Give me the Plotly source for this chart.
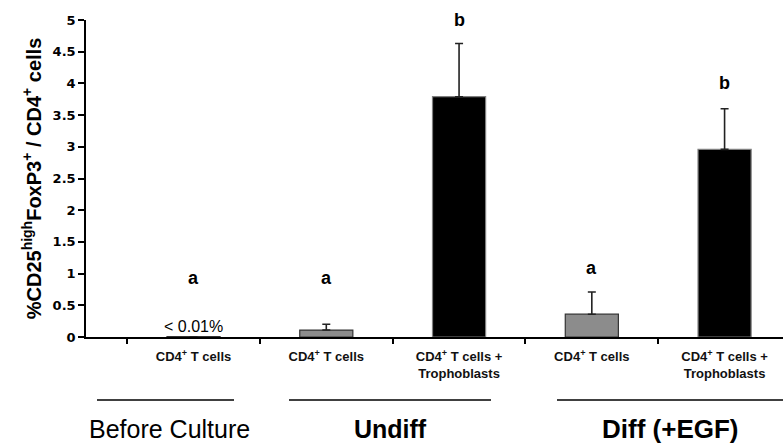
import plotly.graph_objects as go

# ---- data ----
categories = ["bc_t", "ud_t", "ud_tt", "df_t", "df_tt"]
tick_labels = ["CD4<sup>+</sup> T cells",
               "CD4<sup>+</sup> T cells",
               "CD4<sup>+</sup> T cells +<br>Trophoblasts",
               "CD4<sup>+</sup> T cells",
               "CD4<sup>+</sup> T cells +<br>Trophoblasts"]
values = [0.005, 0.11, 3.79, 0.36, 2.96]
errors = [0.0, 0.09, 0.84, 0.35, 0.64]
sig_letters = ["a", "a", "b", "a", "b"]
sig_y = [0.93, 0.93, 5.0, 1.09, 4.0]
bar_colors = ["#8c8c8c", "#8c8c8c", "#000000", "#8c8c8c", "#000000"]
line_colors = ["#333333", "#333333", "#7f7f7f", "#333333", "#7f7f7f"]
groups = ["Before Culture", "<b>Undiff</b>", "<b>Diff (+EGF)</b>"]
y_ticks = [0, 0.5, 1, 1.5, 2, 2.5, 3, 3.5, 4, 4.5, 5]

W, H = 783, 445
L, R, T, B = 86, 0, 20, 108
pw = W - L - R
ph = H - T - B

def px(x):
    return (x - L) / pw

def py(y):
    return (H - B - y) / ph

fig = go.Figure()
fig.add_trace(go.Bar(
    x=categories, y=values,
    marker=dict(color=bar_colors, line=dict(color=line_colors, width=1.2)),
    error_y=dict(type="data", array=errors, arrayminus=[0] * len(errors),
                 symmetric=False, color="#222222", thickness=1.6, width=4),
    width=0.4,
    showlegend=False,
))

for c, s, yy in zip(categories, sig_letters, sig_y):
    fig.add_annotation(x=c, y=yy, text="<b>%s</b>" % s, showarrow=False,
                       font=dict(family="Liberation Sans", size=18, color="black"),
                       xref="x", yref="y")

fig.add_annotation(x=categories[0], y=0.16, text="< 0.01%", showarrow=False,
                   font=dict(family="Liberation Sans", size=16, color="black"))

# group underlines and labels (decorative layout, in pixels -> paper)
group_lines = [(97, 234), (289, 491), (557, 790)]
group_centers = [169, 390, 670]
group_sizes = [25, 25, 26]
for (x0, x1) in group_lines:
    fig.add_shape(type="line", xref="paper", yref="paper",
                  x0=px(x0), x1=px(x1), y0=py(400), y1=py(400),
                  line=dict(color="black", width=1.6))
for g, cx, fs in zip(groups, group_centers, group_sizes):
    fig.add_annotation(xref="paper", yref="paper", x=px(cx), y=py(429),
                       text=g, showarrow=False, xanchor="center", yanchor="middle",
                       font=dict(family="Liberation Sans", size=fs, color="black"))

fig.update_layout(
    width=W, height=H,
    margin=dict(l=L, r=R, t=T, b=B, pad=0, autoexpand=False),
    plot_bgcolor="white", paper_bgcolor="white",
    bargap=0.6,
    xaxis=dict(type="category", categoryorder="array", categoryarray=categories,
               tickvals=categories, ticktext=["<b>%s</b>" % t for t in tick_labels],
               range=[-0.81, 4.44], tickson="boundaries", automargin=False,
               showline=True, linecolor="black", linewidth=1.5,
               ticks="outside", ticklen=5, tickcolor="black", tickwidth=1.5,
               ticklabelstandoff=7,
               tickfont=dict(family="Liberation Sans", size=13, color="#111111"),
               showgrid=False, zeroline=False, fixedrange=True),
    yaxis=dict(range=[0, 5], tickvals=y_ticks, automargin=False,
               ticktext=["<b>%g</b>" % v for v in y_ticks],
               showline=True, linecolor="black", linewidth=1.5,
               ticks="outside", ticklen=6, tickcolor="black", tickwidth=1.5,
               tickfont=dict(family="DejaVu Sans", size=13, color="black"),
               showgrid=False, zeroline=False,
               title=dict(text="<b>%CD25<sup>high</sup>FoxP3<sup>+</sup> / CD4<sup>+</sup> cells</b>",
                          font=dict(family="Liberation Sans", size=20, color="black"),
                          standoff=6)),
)

fig.write_html("out.html", config={"displayModeBar": False},
               post_script="document.body.style.margin='0px';")
